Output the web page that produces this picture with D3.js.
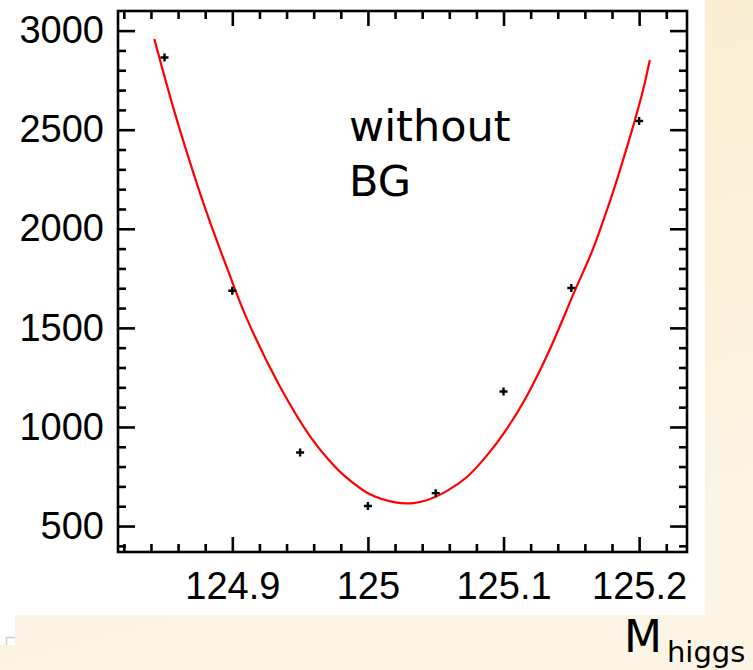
<!DOCTYPE html>
<html>
<head>
<meta charset="utf-8">
<script src="https://cdn.jsdelivr.net/npm/d3@7"></script>
<style>
  html, body { margin: 0; padding: 0; background: #ffffff; }
  svg { display: block; }
</style>
</head>
<body>
<svg id="chart" width="753" height="670"></svg>
<script>
// Scan points: Higgs mass hypothesis vs. scan value
const massPoints = [124.85, 124.9, 124.95, 125.0, 125.05, 125.1, 125.15, 125.2];
const scanValues = [2864, 1687, 871, 601, 666, 1179, 1701, 2544];

// Fitted curve, sampled along the mass range
const fitMass = [124.8425, 124.8565, 124.8688, 124.8811, 124.8959, 124.9106, 124.9351,
                 124.9572, 124.972, 124.9843, 125.0015, 125.0212, 125.0334, 125.0433,
                 125.058, 125.0728, 125.0875, 125.1022, 125.117, 125.1342, 125.1526,
                 125.1649, 125.1734, 125.1821, 125.1895, 125.1956, 125.2029, 125.2079];
const fitValues = [2957, 2610, 2335, 2081, 1806, 1548, 1204,
                   954, 827, 744, 660, 618, 616, 630,
                   676, 746, 854, 988, 1154, 1392, 1688,
                   1880, 2038, 2214, 2378, 2518, 2700, 2852];

// Axis ticks
const xMajorTicks = [124.9, 125.0, 125.1, 125.2];
const xTickLabels = ["124.9", "125", "125.1", "125.2"];
const xMinorTicks = [124.82, 124.84, 124.86, 124.88, 124.92, 124.94, 124.96, 124.98,
                     125.02, 125.04, 125.06, 125.08, 125.12, 125.14, 125.16, 125.18, 125.22];
const yMajorTicks = [500, 1000, 1500, 2000, 2500, 3000];
const yMinorTicks = [400, 600, 700, 800, 900, 1100, 1200, 1300, 1400, 1600, 1700, 1800, 1900,
                     2100, 2200, 2300, 2400, 2600, 2700, 2800, 2900];

const textLines = ["without", "BG"];

const svg = d3.select("#chart");
const W = 753, H = 670;

// Page background: cream slide with a white panel
const defs = svg.append("defs");
const grad = defs.append("linearGradient")
  .attr("id", "slideBg").attr("x1", "0").attr("y1", "0").attr("x2", "0.3").attr("y2", "1");
grad.append("stop").attr("offset", "0%").attr("stop-color", "#f9ebcd");
grad.append("stop").attr("offset", "55%").attr("stop-color", "#fbf0d8");
grad.append("stop").attr("offset", "100%").attr("stop-color", "#fcf5e6");

svg.append("rect").attr("width", W).attr("height", H).attr("fill", "url(#slideBg)");
svg.append("rect").attr("x", 0).attr("y", 0).attr("width", 705).attr("height", 615).attr("fill", "#ffffff");
svg.append("rect").attr("x", 0).attr("y", 615).attr("width", 15).attr("height", 30).attr("fill", "#ffffff");
svg.append("path").attr("d", "M6.5,645V637.5H15").attr("fill", "none")
  .attr("stroke", "#cfcfcf").attr("stroke-width", 1.5);

// Plot frame
const plotLeft = 118, plotRight = 687, plotTop = 11, plotBottom = 552;
const x = d3.scaleLinear().domain([124.8157, 125.2353]).range([plotLeft, plotRight]);
const y = d3.scaleLinear().domain([369, 3099]).range([plotBottom, plotTop]);

const tickFont = "'Liberation Sans', Arial, Helvetica, sans-serif";
const lineW = 2.6;

function styleAxis(g) {
  g.select(".domain").remove();
  g.selectAll(".tick line").attr("stroke", "#000").attr("stroke-width", lineW);
  g.selectAll(".tick text").attr("fill", "#000")
    .style("font-family", tickFont).style("font-size", "38px");
}

// Bottom axis (labels + major ticks)
svg.append("g").attr("transform", `translate(0,${plotBottom})`)
  .call(d3.axisBottom(x).tickValues(xMajorTicks).tickSize(-15).tickPadding(20)
    .tickFormat((d, i) => xTickLabels[i]))
  .call(styleAxis);
svg.append("g").attr("transform", `translate(0,${plotBottom})`)
  .call(d3.axisBottom(x).tickValues(xMinorTicks).tickSize(-8).tickFormat(""))
  .call(styleAxis);
// Top axis
svg.append("g").attr("transform", `translate(0,${plotTop})`)
  .call(d3.axisTop(x).tickValues(xMajorTicks).tickSize(-15).tickFormat(""))
  .call(styleAxis);
svg.append("g").attr("transform", `translate(0,${plotTop})`)
  .call(d3.axisTop(x).tickValues(xMinorTicks).tickSize(-8).tickFormat(""))
  .call(styleAxis);
// Left axis
svg.append("g").attr("transform", `translate(${plotLeft},0)`)
  .call(d3.axisLeft(y).tickValues(yMajorTicks).tickSize(-17).tickPadding(14)
    .tickFormat(d3.format("d")))
  .call(styleAxis);
svg.append("g").attr("transform", `translate(${plotLeft},0)`)
  .call(d3.axisLeft(y).tickValues(yMinorTicks).tickSize(-8).tickFormat(""))
  .call(styleAxis);
// Right axis
svg.append("g").attr("transform", `translate(${plotRight},0)`)
  .call(d3.axisRight(y).tickValues(yMajorTicks).tickSize(-17).tickFormat(""))
  .call(styleAxis);
svg.append("g").attr("transform", `translate(${plotRight},0)`)
  .call(d3.axisRight(y).tickValues(yMinorTicks).tickSize(-8).tickFormat(""))
  .call(styleAxis);

svg.append("rect")
  .attr("x", plotLeft).attr("y", plotTop)
  .attr("width", plotRight - plotLeft).attr("height", plotBottom - plotTop)
  .attr("fill", "none").attr("stroke", "#000").attr("stroke-width", lineW);

// Fit curve
const fitData = fitMass.map((m, i) => [m, fitValues[i]]);
svg.append("path")
  .datum(fitData)
  .attr("fill", "none")
  .attr("stroke", "#ff0000")
  .attr("stroke-width", 2.2)
  .attr("d", d3.line().x(d => x(d[0])).y(d => y(d[1])).curve(d3.curveCatmullRom));

// Scan points as small crosses
svg.append("g").selectAll("path")
  .data(massPoints.map((m, i) => [m, scanValues[i]]))
  .join("path")
  .attr("transform", d => `translate(${x(d[0])},${y(d[1])})`)
  .attr("d", "M-4,0H4M0,-4V4")
  .attr("stroke", "#000")
  .attr("stroke-width", 2.4)
  .attr("fill", "none");

// Annotation
const note = svg.append("text")
  .attr("x", 349).attr("y", 141)
  .style("font-family", "'DejaVu Sans', sans-serif")
  .style("font-size", "43px")
  .attr("fill", "#000");
note.selectAll("tspan").data(textLines).join("tspan")
  .attr("x", 349)
  .attr("dy", (d, i) => i === 0 ? 0 : 55)
  .text(d => d);

// Axis title
const title = svg.append("text")
  .attr("x", 624).attr("y", 652)
  .style("font-family", "'DejaVu Sans', sans-serif")
  .attr("fill", "#000");
title.append("tspan").style("font-size", "44px").text("M");
title.append("tspan").attr("dx", 5).attr("dy", 10).style("font-size", "29px").text("higgs");
</script>
</body>
</html>
